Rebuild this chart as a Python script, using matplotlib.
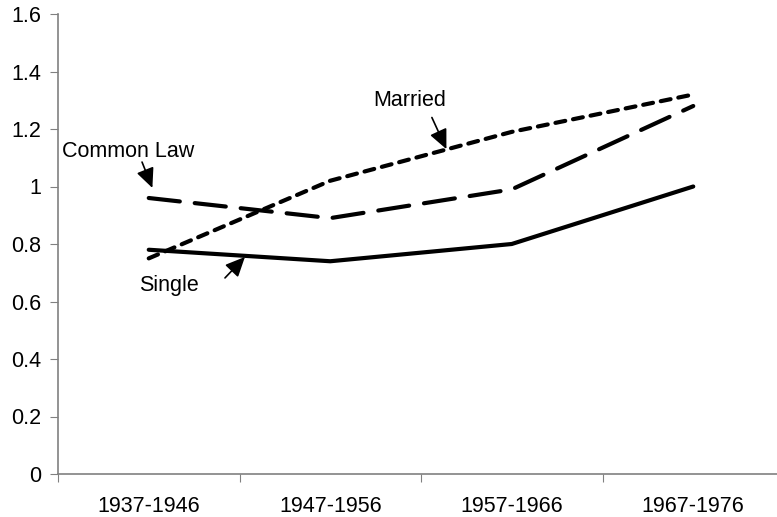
import matplotlib.pyplot as plt

# ── data ──────────────────────────────────────────────
cohorts = ["1937-1946", "1947-1956", "1957-1966", "1967-1976"]
single = [0.78, 0.74, 0.80, 1.00]
married = [0.75, 1.02, 1.19, 1.32]
common_law = [0.96, 0.89, 0.99, 1.28]
y_ticks = [0, 0.2, 0.4, 0.6, 0.8, 1.0, 1.2, 1.4, 1.6]
y_tick_labels = ["0", "0.2", "0.4", "0.6", "0.8", "1", "1.2", "1.4", "1.6"]

plt.rcParams["font.family"] = ["Liberation Sans", "DejaVu Sans"]
fs = 15.5

fig = plt.figure(figsize=(7.77, 5.17), dpi=100)
ax = fig.add_axes([58 / 777, 43 / 517, 726 / 777, 460 / 517])

x = range(len(cohorts))
lw = 3.0
ax.plot(x, single, color="black", linewidth=lw, solid_capstyle="round",
        solid_joinstyle="round")
ax.plot(x, married, color="black", linewidth=lw, linestyle=(0, (2.4, 1.9)),
        dash_capstyle="round", dash_joinstyle="round")
ax.plot(x, common_law, color="black", linewidth=lw, linestyle=(0, (7.5, 3.6)),
        dash_capstyle="round", dash_joinstyle="round")

# ── labels with arrows ───────────────────────────────
arrow = dict(arrowstyle="-|>,head_length=1.2,head_width=0.55", color="black",
             linewidth=1.2, shrinkA=0, shrinkB=0)
ax.annotate("", xy=(1.64, 1.13), xytext=(1.56, 1.24), arrowprops=arrow)
ax.text(1.44, 1.30, "Married", ha="center", va="center", fontsize=fs)
ax.annotate("", xy=(0.02, 0.995), xytext=(-0.037, 1.085), arrowprops=arrow)
ax.text(-0.48, 1.12, "Common Law", ha="left", va="center", fontsize=fs)
ax.annotate("", xy=(0.53, 0.755), xytext=(0.42, 0.682), arrowprops=arrow)
ax.text(0.11, 0.657, "Single", ha="center", va="center", fontsize=fs)

# ── axes styling ─────────────────────────────────────
ax.set_xlim(-0.5, 3.5)
ax.set_ylim(0, 1.6)
ax.set_yticks(y_ticks)
ax.set_yticklabels(y_tick_labels)
ax.set_xticks([i - 0.5 for i in range(len(cohorts))])
ax.set_xticklabels([])
ax.set_xticks(list(x), minor=True)
ax.set_xticklabels(cohorts, minor=True)
ax.tick_params(axis="x", which="minor", length=0, pad=16, labelsize=fs)
ax.tick_params(axis="x", which="major", length=6, color="#808080")
ax.tick_params(axis="y", length=6, color="#808080", labelsize=fs, pad=6)

for side in ["top", "right"]:
    ax.spines[side].set_visible(False)
for side in ["left", "bottom"]:
    ax.spines[side].set_color("#808080")
    ax.spines[side].set_linewidth(1.2)

fig.savefig("out.png", dpi=100)
